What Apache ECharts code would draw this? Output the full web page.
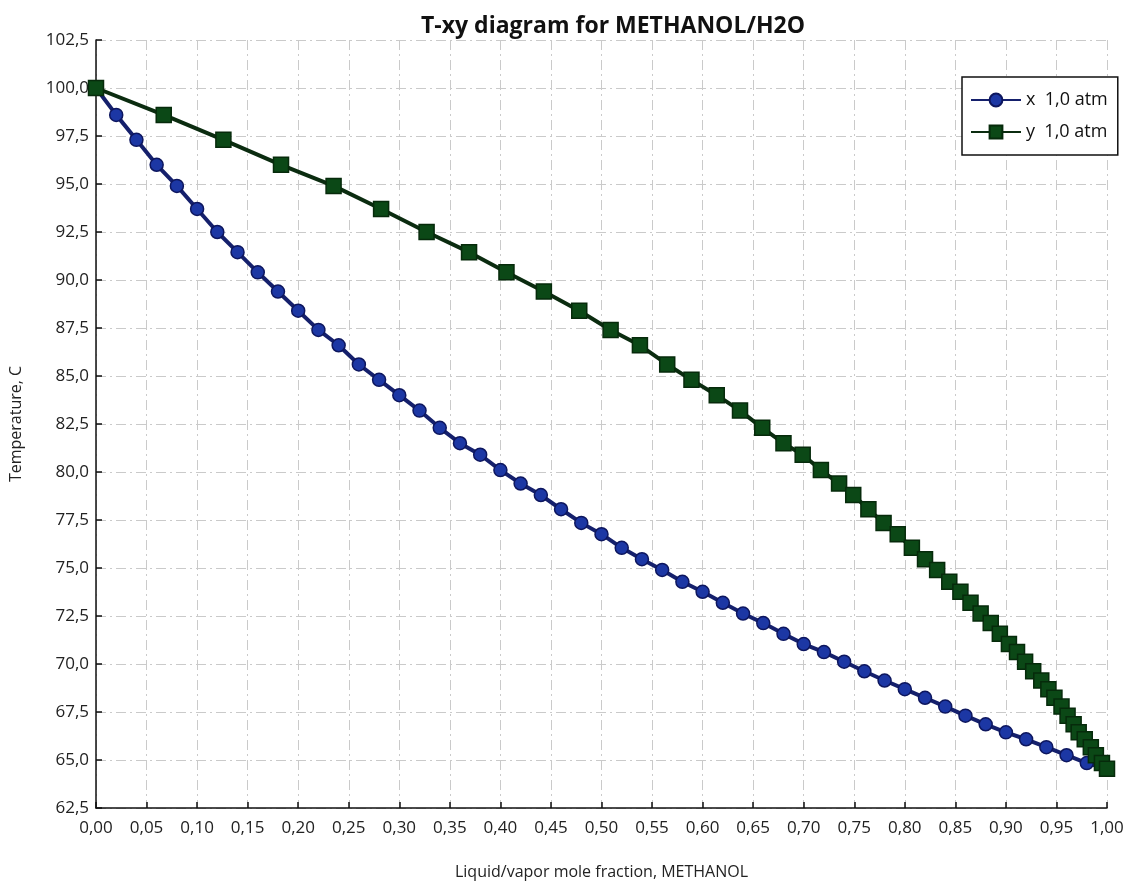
<!DOCTYPE html>
<html>
<head>
<meta charset="utf-8">
<script src="https://cdn.jsdelivr.net/npm/echarts@6/dist/echarts.min.js"></script>
<style>
html,body{margin:0;padding:0;background:#fff;}
#chart{width:1133px;height:888px;}
</style>
</head>
<body>
<div id="chart"></div>
<script>
// Liquid mole fraction of methanol (x) for each computed point
const liquidX = [0.00,0.02,0.04,0.06,0.08,0.10,0.12,0.14,0.16,0.18,0.20,0.22,0.24,0.26,0.28,0.30,0.32,0.34,0.36,0.38,0.40,0.42,0.44,0.46,0.48,0.50,0.52,0.54,0.56,0.58,0.60,0.62,0.64,0.66,0.68,0.70,0.72,0.74,0.76,0.78,0.80,0.82,0.84,0.86,0.88,0.90,0.92,0.94,0.96,0.98,1.00];
// Temperature (C) at each point
const temperature = [100.0,98.6,97.3,96.0,94.9,93.7,92.5,91.45,90.4,89.4,88.4,87.4,86.6,85.6,84.8,84.0,83.2,82.3,81.5,80.9,80.1,79.4,78.8,78.06,77.35,76.76,76.05,75.46,74.9,74.28,73.76,73.19,72.63,72.13,71.57,71.04,70.62,70.12,69.62,69.14,68.69,68.24,67.78,67.31,66.86,66.44,66.08,65.67,65.25,64.84,64.54];
// Vapor mole fraction of methanol (y) at the same temperatures
const vaporY = [0.000,0.067,0.126,0.183,0.235,0.282,0.327,0.369,0.406,0.443,0.478,0.509,0.538,0.565,0.589,0.614,0.637,0.659,0.680,0.699,0.717,0.735,0.749,0.764,0.779,0.793,0.807,0.820,0.832,0.844,0.855,0.865,0.875,0.885,0.894,0.903,0.911,0.919,0.927,0.935,0.942,0.948,0.955,0.961,0.967,0.972,0.978,0.984,0.989,0.995,1.000];
const seriesNames = ['x  1,0 atm','y  1,0 atm'];
const titleText = 'T-xy diagram for METHANOL/H2O';
const xAxisName = 'Liquid/vapor mole fraction, METHANOL';
const yAxisName = 'Temperature, C';

const xData = liquidX.map((x,i)=>[x, temperature[i]]);
const yData = vaporY.map((y,i)=>[y, temperature[i]]);

const font = '"Open Sans", "Noto Sans", sans-serif';
const chart = echarts.init(document.getElementById('chart'), null, {renderer:'canvas'});
const gridLine = {show:true, lineStyle:{color:'#cacaca', width:1, type:[10,4,2,4]}};
chart.setOption({
  animation:false,
  backgroundColor:'#fff',
  title:{text:titleText, left:608, textAlign:'center', top:10,
    textStyle:{fontFamily:font, fontWeight:'bold', fontSize:23, color:'#111'}},
  grid:{left:96, right:26, top:40, bottom:80},
  legend:{
    orient:'vertical', left:962, top:77,
    backgroundColor:'#fff', borderColor:'#111', borderWidth:1.5,
    padding:[14,10,14,8], itemGap:14, itemWidth:50, itemHeight:16,
    textStyle:{fontFamily:font, fontSize:18, color:'#111'},
    data:seriesNames
  },
  xAxis:{type:'value', min:0, max:1, interval:0.05,
    name:xAxisName, nameLocation:'middle', nameGap:56,
    nameTextStyle:{fontFamily:font, fontSize:16, color:'#222'},
    axisLine:{show:true, lineStyle:{color:'#111', width:1.5}},
    axisTick:{show:true, inside:true, length:6, lineStyle:{color:'#111', width:1.5}},
    axisLabel:{fontFamily:font, fontSize:17, color:'#222', margin:12,
      formatter:v=>v.toFixed(2).replace('.',',')},
    splitLine:gridLine},
  yAxis:{type:'value', min:62.5, max:102.5, interval:2.5,
    name:yAxisName, nameLocation:'middle', nameGap:72, nameRotate:90,
    nameTextStyle:{fontFamily:font, fontSize:16, color:'#222'},
    axisLine:{show:true, lineStyle:{color:'#111', width:1.5}},
    axisTick:{show:true, inside:true, length:6, lineStyle:{color:'#111', width:1.5}},
    axisLabel:{fontFamily:font, fontSize:17, color:'#222', margin:7,
      formatter:v=>v.toFixed(1).replace('.',',')},
    splitLine:gridLine},
  series:[
    {name:seriesNames[0], type:'line', data:xData, symbol:'circle', symbolSize:13,
      lineStyle:{color:'#15206c', width:4},
      itemStyle:{color:'#1c37a4', borderColor:'#0d165e', borderWidth:1.5}},
    {name:seriesNames[1], type:'line', data:yData, symbol:'rect', symbolSize:15,
      lineStyle:{color:'#0b2c10', width:4},
      itemStyle:{color:'#0b4816', borderColor:'#062a0b', borderWidth:1.5}}
  ]
});
</script>
</body>
</html>
